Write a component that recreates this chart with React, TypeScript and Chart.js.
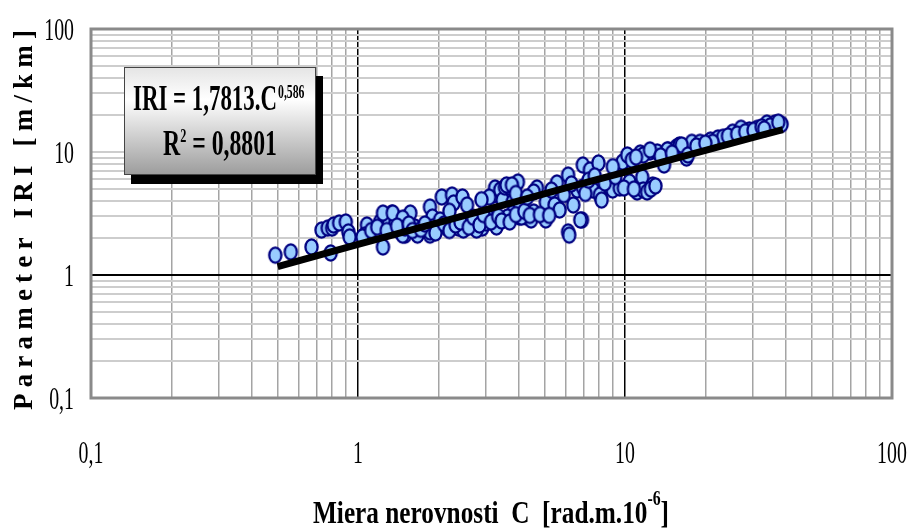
import React, { useEffect, useRef } from "react";
import { Chart, registerables } from "chart.js";

Chart.register(...registerables);

// ---- data ----
const DECADES = [0.1, 1, 10, 100];
const MINOR_STEPS = [2, 3, 4, 5, 6, 7, 8, 9];
const X_TICK_LABELS = ["0,1", "1", "10", "100"];
const Y_TICK_LABELS = ["0,1", "1", "10", "100"];

const X_TITLE = "Miera nerovnosti  C  [rad.m.10";
const X_TITLE_SUP = "-6";
const X_TITLE_END = "]";
const Y_TITLE = "Parameter IRI [m/km]";
const EQ_MAIN = "IRI = 1,7813.C";
const EQ_SUP = "0,586";
const R2_BASE = "R";
const R2_SUP = "2";
const R2_REST = " = 0,8801";

// measured points [C, IRI]
const measurements: [number, number][] = [
  [0.49, 1.45], [0.56, 1.54], [0.67, 1.69], [0.73, 2.32], [0.77, 2.41], [0.8, 2.41],
  [0.81, 2.55], [0.85, 2.65], [0.9, 2.7], [0.92, 2.24], [0.93, 2.04], [0.79, 1.51],
  [1.08, 2.55], [1.06, 2.11], [1.04, 2.04], [1.21, 2.7], [1.26, 3.07], [1.34, 3.19],
  [1.3, 2.55], [1.38, 2.65], [1.24, 1.69], [1.44, 2.24], [1.53, 2.96], [1.5, 2.11],
  [1.24, 3.19], [1.35, 3.19], [1.47, 2.11], [1.86, 2.11],
  [1.57, 3.19], [1.47, 2.9], [1.5, 2.41], [1.63, 2.46], [1.67, 2.11], [1.86, 3.57],
  [1.9, 2.96], [1.91, 2.46], [1.86, 2.24], [2.03, 2.8], [2.06, 4.31], [2.15, 2.41],
  [2.25, 4.47], [2.28, 3.85], [2.38, 2.41], [2.46, 4.31], [2.56, 3.71], [2.53, 2.41],
  [2.66, 2.55], [2.78, 2.8], [2.92, 2.41], [3.02, 2.65], [3.06, 2.96], [3.21, 4.47],
  [3.26, 5.1], [3.41, 4.91], [3.48, 4.07], [3.55, 5.19], [3.7, 5.19], [3.8, 3.92],
  [3.97, 5.7], [3.8, 3.19], [3.63, 2.96], [4.03, 2.96], [4.28, 2.96], [4.45, 2.8],
  [4.55, 3.25], [4.68, 5.1], [5.05, 2.8], [4.03, 3.85], [2.48, 2.32], [2.78, 2.32],
  [3.1, 4.3], [3.6, 5.4], [3.77, 5.4], [4.55, 4.73], [3.3, 2.46], [4.1, 2.96],
  [5.05, 3.92], [5.45, 3.71], [5.56, 5.6], [5.69, 3.38], [6.12, 6.5], [6.12, 2.24],
  [6.18, 2.11], [6.4, 3.71], [6.63, 4.91], [6.9, 2.8], [6.95, 7.84], [6.95, 5.19],
  [7.39, 7.14], [7.58, 4.91], [7.95, 8.14], [8.05, 4.47], [8.17, 4.07], [8.77, 5.19],
  [8.99, 4.91], [9.56, 5.1], [9.79, 8.28], [10.2, 9.46], [10.4, 5.7], [11.1, 4.73],
  [11.6, 6.25], [11.7, 4.91], [12.1, 4.73], [12.7, 5.39], [11.4, 9.81], [12.4, 10.0],
  [13.2, 10.0], [14.5, 10.4], [15.6, 11.0], [6.8, 2.8], [11.7, 9.46], [12.4, 10.4],
  [14.4, 10.4], [16.0, 11.4], [17.8, 12.0], [19.1, 12.0], [20.9, 12.5], [22.3, 13.0],
  [23.3, 13.2], [25.3, 14.5], [27.2, 15.6], [29.2, 15.1], [31.3, 15.6], [34.0, 17.2],
  [36.4, 17.2], [38.6, 16.8], [17.0, 8.93], [14.0, 7.84], [16.3, 11.4], [21.3, 12.0],
  [17.2, 9.46],
  [1.12, 2.3], [1.18, 2.45], [1.28, 2.3], [1.4, 2.5], [1.55, 2.6], [1.6, 2.3],
  [1.72, 2.35], [1.78, 2.6], [1.95, 2.2], [2.1, 2.6], [2.2, 2.3], [2.32, 2.55],
  [2.42, 2.7], [2.6, 2.45], [2.7, 2.95], [2.85, 2.55], [2.95, 3.1], [3.15, 2.7],
  [3.35, 3.0], [3.45, 2.75], [3.7, 2.7], [3.9, 3.1], [4.2, 3.3], [4.4, 3.05],
  [4.8, 3.1], [5.2, 3.05], [5.3, 4.9], [5.9, 4.5], [6.3, 5.5], [7.1, 4.6],
  [7.3, 5.9], [7.7, 6.4], [8.4, 5.6], [9.2, 6.3], [9.9, 5.1], [10.8, 5.0],
  [12.5, 5.0], [13.0, 5.3], [9.0, 7.6], [10.6, 8.6], [11.0, 9.1], [13.6, 9.3],
  [15.0, 9.8], [18.5, 11.2], [20.0, 11.8], [24.3, 13.5], [26.3, 14.0], [28.2, 14.6],
  [30.3, 15.0], [32.5, 16.0], [35.0, 16.3], [37.5, 17.5], [33.2, 15.4], [3.9, 4.6],
  [4.3, 4.3], [2.9, 4.1], [2.2, 3.3],
];

// trend line
const trendC = [0.5, 1, 2, 4, 6, 10, 15, 20, 30, 39];
const trendIRI = [1.17, 1.77, 2.66, 4.0, 5.1, 6.87, 8.7, 10.3, 13.1, 15.2];

// ---- style ----
const SERIF = "'Liberation Serif', 'Times New Roman', serif";
const SQUASH = 0.62;

function buildGridTicks(): number[] {
  const out: number[] = [];
  DECADES.forEach((d, i) => {
    out.push(d);
    if (i < DECADES.length - 1) MINOR_STEPS.forEach((m) => out.push(d * m));
  });
  return out;
}

function makeMarker(): HTMLCanvasElement {
  const c = document.createElement("canvas");
  c.width = 17;
  c.height = 20;
  const g = c.getContext("2d")!;
  g.beginPath();
  g.ellipse(8.5, 10, 6.1, 7.6, 0, 0, Math.PI * 2);
  g.fillStyle = "#99ccff";
  g.fill();
  g.lineWidth = 2.3;
  g.strokeStyle = "#000080";
  g.stroke();
  return c;
}

function measure(ctx: CanvasRenderingContext2D, text: string, font: string) {
  ctx.save();
  ctx.font = font;
  const w = ctx.measureText(text).width;
  ctx.restore();
  return w;
}

function drawSquashed(
  ctx: CanvasRenderingContext2D,
  text: string,
  x: number,
  y: number,
  font: string,
  sx: number,
  align: CanvasTextAlign
) {
  ctx.save();
  ctx.font = font;
  ctx.textAlign = align;
  ctx.textBaseline = "alphabetic";
  ctx.fillStyle = "#000";
  ctx.translate(x, y);
  ctx.scale(sx, 1);
  ctx.fillText(text, 0, 0);
  ctx.restore();
}

const decorPlugin = {
  id: "decor",
  afterDraw(chart: any) {
    const ctx: CanvasRenderingContext2D = chart.ctx;
    const { left, right, top, bottom } = chart.chartArea;
    const xs = chart.scales.x;
    const ys = chart.scales.y;

    // plot frame
    ctx.save();
    ctx.strokeStyle = "#8a8a8a";
    ctx.lineWidth = 3;
    ctx.strokeRect(left, top, right - left, bottom - top);
    ctx.restore();

    // tick labels
    const tickFont = `32px ${SERIF}`;
    DECADES.forEach((v, i) => {
      drawSquashed(ctx, Y_TICK_LABELS[i], 74, ys.getPixelForValue(v) + 11, tickFont, SQUASH, "right");
      drawSquashed(ctx, X_TICK_LABELS[i], xs.getPixelForValue(v), 463, tickFont, SQUASH, "center");
    });

    // x title
    const tFont = `bold 32px ${SERIF}`;
    const sFont = `bold 20px ${SERIF}`;
    const wMain = measure(ctx, X_TITLE, tFont);
    const wSup = measure(ctx, X_TITLE_SUP, sFont);
    const wEnd = measure(ctx, X_TITLE_END, tFont);
    const tsx = 356 / (wMain + wSup + wEnd);
    let tx = 313;
    drawSquashed(ctx, X_TITLE, tx, 523, tFont, tsx, "left");
    tx += wMain * tsx;
    drawSquashed(ctx, X_TITLE_SUP, tx, 505, sFont, tsx, "left");
    tx += wSup * tsx;
    drawSquashed(ctx, X_TITLE_END, tx, 523, tFont, tsx, "left");

    // y title (rotated, letter-spaced)
    ctx.save();
    const yFont = `bold 27px ${SERIF}`;
    ctx.font = yFont;
    const chars = Array.from(Y_TITLE);
    const widths = chars.map((ch) => ctx.measureText(ch).width);
    const natural = widths.reduce((a, b) => a + b, 0);
    const span = 380;
    const gap = (span - natural) / (chars.length - 1);
    ctx.translate(32, 410);
    ctx.scale(1.05, 1);
    ctx.rotate(-Math.PI / 2);
    ctx.fillStyle = "#000";
    ctx.textBaseline = "alphabetic";
    ctx.textAlign = "left";
    let u = 0;
    chars.forEach((ch, i) => {
      ctx.fillText(ch, u, 0);
      u += widths[i] + gap;
    });
    ctx.restore();

    // equation box
    const bx = 124, by = 67, bw = 192, bh = 108;
    ctx.save();
    ctx.fillStyle = "#000";
    ctx.fillRect(bx + 7, by + 9, bw, bh);
    const grad = ctx.createLinearGradient(0, by, 0, by + bh);
    grad.addColorStop(0, "#e4e4e4");
    grad.addColorStop(0.3, "#ffffff");
    grad.addColorStop(1, "#9c9c9c");
    ctx.fillStyle = grad;
    ctx.fillRect(bx, by, bw, bh);
    ctx.strokeStyle = "#444";
    ctx.lineWidth = 1;
    ctx.strokeRect(bx + 0.5, by + 0.5, bw - 1, bh - 1);
    ctx.restore();

    const eFont = `bold 35px ${SERIF}`;
    const eSup = `bold 18px ${SERIF}`;
    const w1 = measure(ctx, EQ_MAIN, eFont);
    const s1 = 144 / w1;
    drawSquashed(ctx, EQ_MAIN, 133, 110, eFont, s1, "left");
    drawSquashed(ctx, EQ_SUP, 133 + w1 * s1 + 1, 98, eSup, s1, "left");

    const wR = measure(ctx, R2_BASE, eFont);
    const wR2 = measure(ctx, R2_SUP, eSup);
    const wRest = measure(ctx, R2_REST, eFont);
    const s2 = 114 / (wR + wR2 + wRest);
    let rx = 163;
    drawSquashed(ctx, R2_BASE, rx, 155, eFont, s2, "left");
    rx += wR * s2;
    drawSquashed(ctx, R2_SUP, rx, 142, eSup, s2, "left");
    rx += wR2 * s2;
    drawSquashed(ctx, R2_REST, rx, 155, eFont, s2, "left");
  },
};

export default function App() {
  const ref = useRef<HTMLCanvasElement | null>(null);

  useEffect(() => {
    document.body.style.margin = "0";
    const canvas = ref.current!;
    const gridTicks = buildGridTicks();
    const marker = makeMarker();

    const chart = new Chart(canvas, {
      type: "scatter",
      data: {
        datasets: [
          {
            label: "trend",
            data: trendC.map((c, i) => ({ x: c, y: trendIRI[i] })),
            showLine: true,
            borderColor: "#000",
            borderWidth: 7,
            pointRadius: 0,
            tension: 0,
            borderCapStyle: "butt",
          } as any,
          {
            label: "IRI",
            data: measurements.map(([c, v]) => ({ x: c, y: v })),
            pointStyle: marker as any,
            pointRadius: 8,
          },
        ],
      },
      plugins: [decorPlugin],
      options: {
        responsive: false,
        animation: false,
        devicePixelRatio: 1,
        layout: { padding: { left: 91, top: 29, right: 20, bottom: 133 } },
        plugins: { legend: { display: false }, tooltip: { enabled: false } },
        scales: {
          x: {
            type: "logarithmic",
            min: 0.1,
            max: 100,
            afterBuildTicks: (s: any) => {
              s.ticks = gridTicks.map((v) => ({ value: v }));
            },
            ticks: { display: false },
            border: { display: false },
            grid: {
              drawTicks: false,
              lineWidth: 1.5,
              color: (c: any) =>
                c.tick && (c.tick.value === 1 || c.tick.value === 10) ? "#000" : "#a4a4a4",
            },
          },
          y: {
            type: "logarithmic",
            min: 0.1,
            max: 100,
            afterBuildTicks: (s: any) => {
              s.ticks = gridTicks.map((v) => ({ value: v }));
            },
            ticks: { display: false },
            border: { display: false },
            grid: {
              drawTicks: false,
              lineWidth: 2,
              color: (c: any) => (c.tick && c.tick.value === 1 ? "#000" : "#cdcdcd"),
            },
          },
        },
      } as any,
    });
    return () => chart.destroy();
  }, []);

  return (
    <canvas ref={ref} width={912} height={531} style={{ display: "block", background: "#fff" }} />
  );
}
